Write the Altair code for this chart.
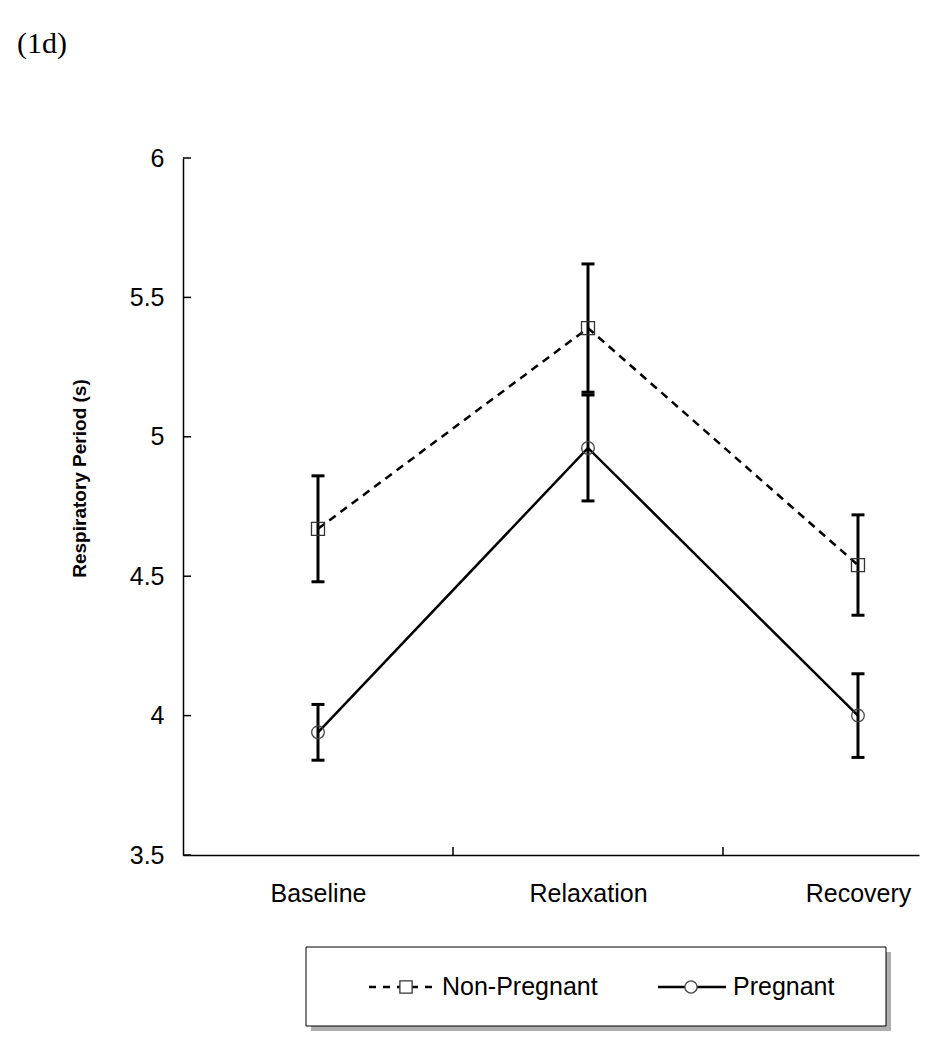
import json
import altair as alt
import pandas as pd

categories = ["Baseline", "Relaxation", "Recovery"]
positions = [0.5, 1.5, 2.5]
groups = ["Non-Pregnant", "Pregnant"]
np_mean = [4.67, 5.39, 4.54]
np_err = [0.19, 0.23, 0.18]
p_mean = [3.94, 4.96, 4.00]
p_err = [0.10, 0.19, 0.15]
y_ticks = [3.5, 4, 4.5, 5, 5.5, 6]
x_sep_ticks = [1, 2]

rows = []
for g, means, errs in [(groups[0], np_mean, np_err), (groups[1], p_mean, p_err)]:
    for c, pos, m, e in zip(categories, positions, means, errs):
        rows.append({"cat": c, "pos": pos, "group": g, "mean": m,
                     "lo": round(m - e, 3), "hi": round(m + e, 3)})
df = pd.DataFrame(rows)

W, H = 736, 697
FONT = "Liberation Sans"
LBL = 25

xscale = alt.Scale(domain=[0, 2.726], nice=False, zero=False)
yscale = alt.Scale(domain=[3.5, 6], nice=False, zero=False)

label_expr = f"{json.dumps(categories)}[floor(datum.value)]"

x_enc = alt.X("pos:Q", scale=xscale, title=None,
              axis=alt.Axis(values=positions, labelExpr=label_expr, ticks=False,
                            grid=False, labelFontSize=LBL, labelFont=FONT,
                            labelColor="black", labelPadding=26, labelFlush=False,
                            domainColor="black", domainWidth=1.5, labelOverlap=False))
y_axis = alt.Axis(values=y_ticks, format="~g", ticks=False, grid=False,
                  labelFontSize=LBL, labelFont=FONT, labelColor="black",
                  labelPadding=19, domainColor="black", domainWidth=1.5,
                  title="Respiratory Period (s)", titleFont=FONT, titleFontSize=19,
                  titleFontWeight="bold", titleColor="black", titleAngle=-90,
                  titleX=-104, titleY=320, titleAlign="center", titleBaseline="middle")

base = alt.Chart(df)

err_rule = base.mark_rule(color="black", strokeWidth=3).encode(
    x=x_enc, y=alt.Y("lo:Q", scale=yscale, axis=y_axis), y2="hi:Q")
cap_shape = "M-1,0L1,0"
cap_lo = base.mark_point(shape=cap_shape, size=169, stroke="black", strokeWidth=3,
                         filled=False, opacity=1).encode(
    x=alt.X("pos:Q", scale=xscale), y=alt.Y("lo:Q", scale=yscale))
cap_hi = base.mark_point(shape=cap_shape, size=169, stroke="black", strokeWidth=3,
                         filled=False, opacity=1).encode(
    x=alt.X("pos:Q", scale=xscale), y=alt.Y("hi:Q", scale=yscale))

np_line = base.transform_filter(alt.datum.group == groups[0]).mark_line(
    color="black", strokeWidth=2.5, strokeDash=[8, 6]).encode(
    x=alt.X("pos:Q", scale=xscale), y=alt.Y("mean:Q", scale=yscale))
p_line = base.transform_filter(alt.datum.group == groups[1]).mark_line(
    color="black", strokeWidth=2.5).encode(
    x=alt.X("pos:Q", scale=xscale), y=alt.Y("mean:Q", scale=yscale))

np_pts = base.transform_filter(alt.datum.group == groups[0]).mark_point(
    shape="square", size=169, filled=False, stroke="#333333", strokeWidth=1.3,
    opacity=1).encode(x=alt.X("pos:Q", scale=xscale), y=alt.Y("mean:Q", scale=yscale))
p_pts = base.transform_filter(alt.datum.group == groups[1]).mark_point(
    shape="circle", size=160, filled=False, stroke="#444444", strokeWidth=1.3,
    opacity=1).encode(x=alt.X("pos:Q", scale=xscale), y=alt.Y("mean:Q", scale=yscale))

# inward ticks
ytick_df = pd.DataFrame({"v": y_ticks})
y_tick_marks = alt.Chart(ytick_df).mark_rule(color="black", strokeWidth=1.5).encode(
    y=alt.Y("v:Q", scale=yscale), x=alt.value(0), x2=alt.value(8))
xtick_df = pd.DataFrame({"v": x_sep_ticks})
x_tick_marks = alt.Chart(xtick_df).mark_rule(color="black", strokeWidth=1.5).encode(
    x=alt.X("v:Q", scale=xscale), y=alt.value(H), y2=alt.value(H - 8))

one = alt.Data(values=[{"k": 0}])

# panel label
panel = alt.Chart(one).mark_text(text="(1d)", font="Liberation Serif", fontSize=30,
                                 align="left", baseline="alphabetic", color="black").encode(
    x=alt.value(-166), y=alt.value(-105))

# legend
ly = 829
shadow = alt.Chart(one).mark_rect(fill="#9a9a9a", opacity=0.8).encode(
    x=alt.value(128), x2=alt.value(708), y=alt.value(794), y2=alt.value(873))
box = alt.Chart(one).mark_rect(fill="white", stroke="black", strokeWidth=1).encode(
    x=alt.value(123), x2=alt.value(703), y=alt.value(789), y2=alt.value(868))
leg_np_line = alt.Chart(one).mark_rule(color="black", strokeWidth=2.5,
                                       strokeDash=[7, 7]).encode(
    x=alt.value(186), x2=alt.value(249), y=alt.value(ly))
leg_np_pt = alt.Chart(one).mark_point(shape="square", size=150, filled=True,
                                      fill="white", stroke="#333333", strokeWidth=1.3,
                                      opacity=1).encode(x=alt.value(223), y=alt.value(ly))
leg_np_txt = alt.Chart(one).mark_text(text=groups[0], font=FONT, fontSize=LBL,
                                      align="left", baseline="middle", color="black").encode(
    x=alt.value(259), y=alt.value(ly))
leg_p_line = alt.Chart(one).mark_rule(color="black", strokeWidth=2.5).encode(
    x=alt.value(475), x2=alt.value(543), y=alt.value(ly))
leg_p_pt = alt.Chart(one).mark_point(shape="circle", size=150, filled=True,
                                     fill="white", stroke="#444444", strokeWidth=1.3,
                                     opacity=1).encode(x=alt.value(508), y=alt.value(ly))
leg_p_txt = alt.Chart(one).mark_text(text=groups[1], font=FONT, fontSize=LBL,
                                     align="left", baseline="middle", color="black").encode(
    x=alt.value(550), y=alt.value(ly))

chart = alt.layer(
    err_rule, cap_lo, cap_hi, np_line, p_line, np_pts, p_pts,
    y_tick_marks, x_tick_marks, panel,
    shadow, box, leg_np_line, leg_np_pt, leg_np_txt, leg_p_line, leg_p_pt, leg_p_txt,
).properties(
    width=W, height=H,
    autosize=alt.AutoSizeParams(type="none"),
    padding={"left": 175, "top": 150, "right": 12, "bottom": 180},
).configure(background="white").configure_view(stroke=None)

chart.save("out.html", embed_options={"renderer": "svg", "actions": False})
